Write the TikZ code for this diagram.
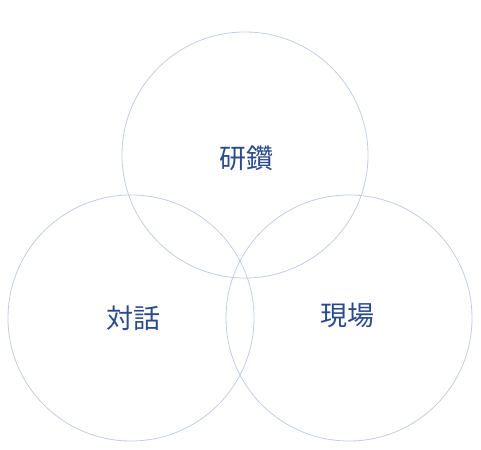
\documentclass[tikz,border=0pt]{standalone}
\usepackage{fontspec}
\newfontfamily\cjk{Noto Sans CJK JP}
\usepackage{xcolor}
\definecolor{ringline}{HTML}{C5CDE2}
\definecolor{wordblue}{HTML}{2B4A8C}
\usetikzlibrary{positioning}

\begin{document}
\begin{tikzpicture}[
    x=1pt, y=1pt,
    ring/.style={circle, draw=ringline, line width=0.8pt, minimum size=246pt, inner sep=0pt},
    word/.style={text=wordblue, font=\cjk\fontsize{27}{27}\selectfont}
]

% canvas
\useasboundingbox (0,0) rectangle (481,449);

% Three overlapping rings
\node[ring] (kensan) at (245,294) {};
\node[ring] (taiwa) at (131,131) {};
\node[ring] (genba) at (349,131) {};

% Labels
\node[word] (kensanlabel) at (246,291) {研鑽};
\node[word] (taiwalabel) at (133,131) {対話};
\node[word] (genbalabel) at (347,134) {現場};

\end{tikzpicture}
\end{document}
